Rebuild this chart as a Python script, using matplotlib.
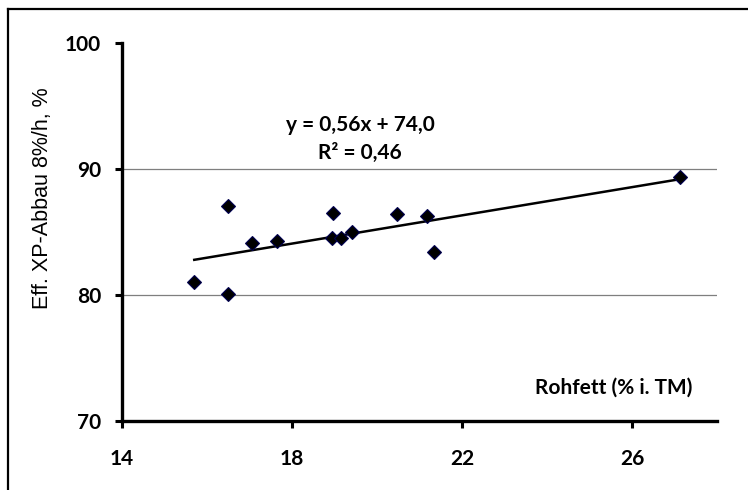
import matplotlib
matplotlib.use("Agg")
import matplotlib.pyplot as plt
from matplotlib.lines import Line2D
import numpy as np

# Data
rohfett = [15.7, 16.5, 16.5, 17.05, 17.65, 18.97, 18.94, 19.15, 19.42, 20.48, 21.18, 21.34, 27.13]
abbau = [81.0, 87.1, 80.1, 84.1, 84.3, 86.5, 84.5, 84.5, 85.0, 86.4, 86.3, 83.4, 89.4]
slope = 0.56
intercept = 74.0
eq_text = "y = 0,56x + 74,0"
r2_text = "R² = 0,46"
x_ticks = [14, 18, 22, 26]
y_ticks = [70, 80, 90, 100]
grid_levels = [80, 90]

TICK_FONT = ["Lato", "DejaVu Sans"]
LABEL_FONT = ["Liberation Sans", "DejaVu Sans"]
FS = 15

fig = plt.figure(figsize=(7.48, 4.90), dpi=100)
ax = fig.add_axes([122 / 748, 1 - 421 / 490, (717 - 122) / 748, (421 - 43) / 490])

# horizontal grid lines
for g in grid_levels:
    ax.axhline(g, color="#7f7f7f", linewidth=0.9, zorder=1)

# scatter points
ax.plot(rohfett, abbau, linestyle="none", marker="D", markersize=7.4,
        markerfacecolor="black", markeredgecolor="#000050", markeredgewidth=0.8,
        zorder=3)

# linear trend line over the data range
xs = np.array([min(rohfett), max(rohfett)])
ax.plot(xs, slope * xs + intercept, color="black", linewidth=1.8, zorder=2)

ax.set_xlim(14, 28)
ax.set_ylim(70, 100)
ax.set_xticks(x_ticks)
ax.set_yticks(y_ticks)
ax.set_xticklabels([str(t) for t in x_ticks], family=TICK_FONT, fontweight="bold", fontsize=FS)
ax.set_yticklabels([str(t) for t in y_ticks], family=TICK_FONT, fontweight="bold", fontsize=FS)
ax.tick_params(axis="x", direction="out", length=5, width=2.2, pad=15)
ax.tick_params(axis="y", direction="out", length=5, width=2.2, pad=10)

for side in ("top", "right"):
    ax.spines[side].set_visible(False)
for side in ("left", "bottom"):
    ax.spines[side].set_linewidth(2.4)
    ax.spines[side].set_color("black")

# y axis title
fig.text(43 / 748, 1 - 198 / 490, "Eff. XP-Abbau 8%/h, %", rotation=90,
         ha="center", va="center", family=LABEL_FONT, fontsize=15.5)

# x axis title sits inside the plot area
fig.text(692 / 748, 1 - 388 / 490, "Rohfett (% i. TM)", ha="right", va="center",
         family=TICK_FONT, fontweight="bold", fontsize=FS)

# trend line equation
fig.text(360 / 748, 1 - 125 / 490, eq_text, ha="center", va="center",
         family=TICK_FONT, fontweight="bold", fontsize=FS)
fig.text(360 / 748, 1 - 153 / 490, r2_text, ha="center", va="center",
         family=TICK_FONT, fontweight="bold", fontsize=FS)

# outer frame (left and top edges visible)
fig.add_artist(Line2D([8 / 748, 8 / 748], [0, 1 - 9 / 490], transform=fig.transFigure,
                      color="black", linewidth=1.6))
fig.add_artist(Line2D([8 / 748, 1], [1 - 9 / 490, 1 - 9 / 490], transform=fig.transFigure,
                      color="black", linewidth=1.6))

fig.savefig("out.png", dpi=100, facecolor="white")
